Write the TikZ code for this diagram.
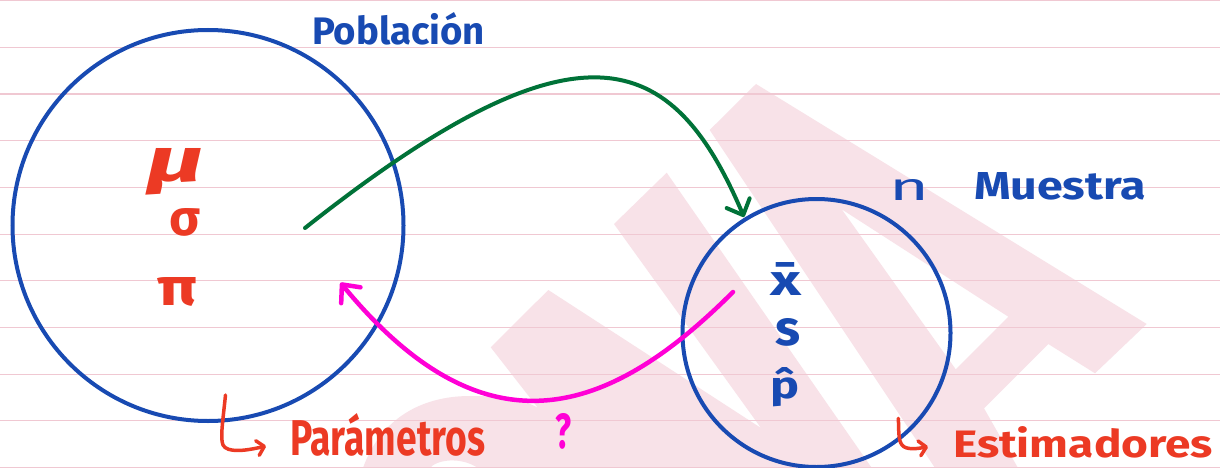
\documentclass[tikz,border=0pt]{standalone}
\usepackage{fontspec}
\setmainfont{Fira Sans}
\usetikzlibrary{arrows.meta}
\definecolor{rulec}{RGB}{240,200,210}
\definecolor{wm}{RGB}{248,226,232}
\definecolor{inkblue}{RGB}{24,74,178}
\definecolor{inkgreen}{RGB}{0,114,56}
\definecolor{inkmag}{RGB}{255,0,214}
\definecolor{inkred}{RGB}{236,58,36}
\tikzset{
  rule/.style={draw=rulec, line width=1.3pt},
  wmark/.style={fill=wm, draw=none, even odd rule},
  ring/.style={draw=inkblue, line width=4pt, circle, inner sep=0pt, outer sep=0pt},
  conn/.style={line width=4pt, line cap=round},
  hook/.style={line width=3.5pt, line cap=round, line join=round, draw=inkred, -{Straight Barb[length=7pt,width=15pt,round]}},
  lbl/.style={inner sep=0pt, outer sep=0pt, font=\bfseries},
}
\begin{document}
\begin{tikzpicture}[x=1pt,y=-1pt]
\useasboundingbox (0,0) rectangle (1220,468);
\fill[white] (0,0) rectangle (1220,468);
% watermark
\fill[wmark] (709.7,130) -- (756,84) -- (1146.7,324) -- (1095,373.3) -- (1048.3,344) -- (984,408.3) -- (1018,468) -- (935,468) -- cycle
  (841.7,209.3) -- (1008.3,316.7) -- (955.7,369.3) -- cycle;
\fill[wmark] (363,468) .. controls (380,420) and (420,396) .. (470,396) .. controls (505,396) and (525,400) .. (538,408)
  -- (490.7,347.3) -- (548.3,290) -- (761,428) -- (614,224) -- (666.7,172.7) -- (871.8,468) -- cycle
  (430,468) .. controls (436,460) and (460,456) .. (478,468) -- cycle;
% ruled lines
\foreach \k in {0,...,10} \draw[rule] (0,{46.67*\k+0.8}) -- (1220,{46.67*\k+0.8});
% circles
\node[ring, minimum size=391pt] (pob) at (208,225.5) {};
\node[ring, minimum size=268pt] (mue) at (816.5,333) {};
% labels
\node[lbl, text=inkblue, anchor=base west] (tpob) at (312,45) {\resizebox{173pt}{32pt}{Población}};
\node[lbl, text=inkblue, anchor=base west] (tn) at (889,200) {\resizebox{40pt}{21pt}{\mdseries n}};
\node[lbl, text=inkblue, anchor=base west] (tmue) at (974,199) {\resizebox{172pt}{27pt}{Muestra}};
\node[lbl, text=inkred, anchor=base west] (mu) at (146,181) {\resizebox{58pt}{33pt}{\itshape μ}};
\node[lbl, text=inkred, anchor=base west] (sigma) at (169,235) {\resizebox{31pt}{27pt}{σ}};
\node[lbl, text=inkred, anchor=base west] (pi) at (157,305) {\resizebox{40pt}{28pt}{π}};
\node[lbl, text=inkblue, anchor=base west] (xbar) at (770,295) {\resizebox{31pt}{33pt}{x̄}};
\node[lbl, text=inkblue, anchor=base west] (s) at (775,345) {\resizebox{25pt}{27pt}{s}};
\node[lbl, text=inkblue, anchor=base west] (phat) at (770,398) {\resizebox{29pt}{31pt}{p̂}};
\node[lbl, text=inkred, anchor=base west] (tpar) at (290,455) {\resizebox{195pt}{42pt}{Parámetros}};
\node[lbl, text=inkred, anchor=base west] (test) at (953,457) {\resizebox{260pt}{31pt}{Estimadores}};
\node[lbl, text=inkmag, anchor=base west] (q) at (555,448) {\resizebox{16pt}{35pt}{?}};
% connectors
\coordinate (g1) at (305,228);
\coordinate (g2) at (744,217);
\draw[conn, draw=inkgreen, -{Straight Barb[length=13pt,width=25pt,round]}] (g1) .. controls (578,12) and (672,47.5) .. (g2);
\coordinate (m1) at (733,292);
\coordinate (m2) at (340.5,282.7);
\draw[conn, line width=4.5pt, draw=inkmag, -{Straight Barb[length=14pt,width=25pt,round]}] (m1) .. controls (609.6,415.4) and (486,459.6) .. (m2);
\coordinate (h1) at (225.5,395);
\coordinate (h1e) at (266,446);
\draw[hook] (h1) .. controls (223,420) and (220,438) .. (223,445) .. controls (227,453) and (245,451) .. (h1e);
\coordinate (h2) at (898.3,418.3);
\coordinate (h2e) at (928,446.7);
\draw[hook] (h2) .. controls (899,430) and (898,440) .. (902,445) .. controls (906,450) and (916,449) .. (h2e);
\end{tikzpicture}
\end{document}
